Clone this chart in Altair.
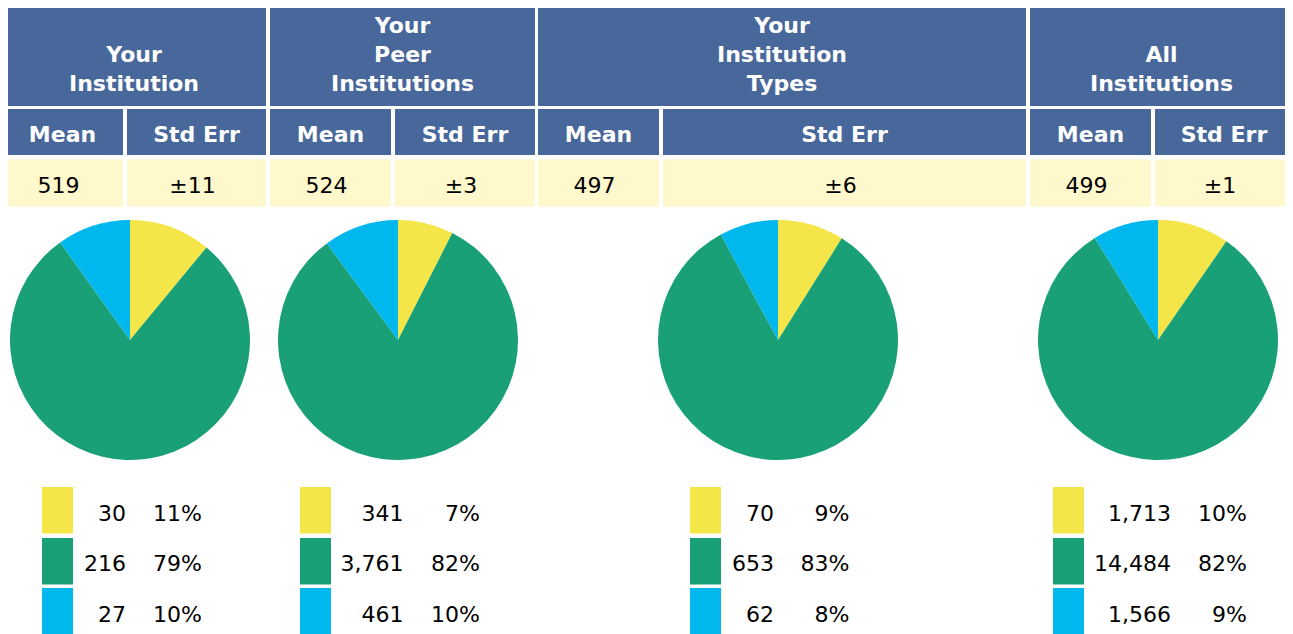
import altair as alt
import pandas as pd

# ---------------- data ----------------
groups = ["Your\nInstitution", "Your\nPeer\nInstitutions", "Your\nInstitution\nTypes", "All\nInstitutions"]
sub_headers = ["Mean", "Std Err"]
means = [519, 524, 497, 499]
std_errs = [11, 3, 6, 1]
categories = ["Category 1", "Category 2", "Category 3"]
counts = [[30, 216, 27], [341, 3761, 461], [70, 653, 62], [1713, 14484, 1566]]
percents = [[11, 79, 10], [7, 82, 10], [9, 83, 8], [10, 82, 9]]

# ---------------- layout / style ----------------
W, H = 1293, 634
col_left = [2, 270, 538, 1030]
col_right = [266, 535, 1026, 1293]
mean_right = [123, 391, 659, 1151]
std_left = [127, 395, 663, 1155]
row1 = (1, 106)
row2 = (109, 155)
row3 = (159.5, 206.5)
head_last_baseline, head_line_step = 91.3, 29
sub_baseline = 141.7
val_baseline = 193.3
val_shift = -4
pie_cx = [130, 398, 778, 1158]
pie_cy = 340
pie_r = 120
leg_left = [42, 300, 690, 1053]
leg_w = 31
leg_rows = [(487, 533.5), (538, 584.5), (588, 634)]
leg_baselines = [520.7, 570.7, 621.5]
count_right = [126, 403.5, 774, 1171]
pct_right = [202, 480, 849.5, 1247]

HEAD = "#48679A"
VAL_BG = "#FFF8CC"
cat_colors = ["#F4E548", "#19A077", "#00B7EE"]
FONT = "DejaVu Sans"
FS = 22

xs = alt.Scale(domain=[0, W], nice=False, zero=False)
ys = alt.Scale(domain=[0, H], nice=False, zero=False, reverse=True)

# ---------------- tables ----------------
cells = []
for i in range(len(groups)):
    cells.append(dict(x=col_left[i], x2=col_right[i], y=row1[0], y2=row1[1], fill=HEAD))
    cells.append(dict(x=col_left[i], x2=mean_right[i], y=row2[0], y2=row2[1], fill=HEAD))
    cells.append(dict(x=std_left[i], x2=col_right[i], y=row2[0], y2=row2[1], fill=HEAD))
    cells.append(dict(x=col_left[i], x2=mean_right[i], y=row3[0], y2=row3[1], fill=VAL_BG))
    cells.append(dict(x=std_left[i], x2=col_right[i], y=row3[0], y2=row3[1], fill=VAL_BG))
    for k in range(len(categories)):
        cells.append(dict(x=leg_left[i], x2=leg_left[i] + leg_w,
                          y=leg_rows[k][0], y2=leg_rows[k][1], fill=cat_colors[k]))
cells_df = pd.DataFrame(cells)

head_txt = []
for i, g in enumerate(groups):
    lines = g.split("\n")
    n = len(lines)
    cx = (col_left[i] + col_right[i]) / 2
    for j, ln in enumerate(lines):
        head_txt.append(dict(x=cx, y=head_last_baseline - head_line_step * (n - 1 - j), t=ln))
    head_txt.append(dict(x=(col_left[i] + mean_right[i]) / 2, y=sub_baseline, t=sub_headers[0]))
    head_txt.append(dict(x=(std_left[i] + col_right[i]) / 2, y=sub_baseline, t=sub_headers[1]))
head_df = pd.DataFrame(head_txt)

val_txt = []
for i in range(len(groups)):
    val_txt.append(dict(x=(col_left[i] + mean_right[i]) / 2 + val_shift, y=val_baseline, t=f"{means[i]:,}"))
    val_txt.append(dict(x=(std_left[i] + col_right[i]) / 2 + val_shift, y=val_baseline, t=f"±{std_errs[i]}"))
val_df = pd.DataFrame(val_txt)

leg_txt = []
for i in range(len(groups)):
    for k in range(len(categories)):
        leg_txt.append(dict(x=count_right[i], y=leg_baselines[k], t=f"{counts[i][k]:,}"))
        leg_txt.append(dict(x=pct_right[i], y=leg_baselines[k], t=f"{percents[i][k]}%"))
leg_df = pd.DataFrame(leg_txt)

pie_rows = []
for i in range(len(groups)):
    for k, c in enumerate(categories):
        pie_rows.append(dict(gid=i, cid=k, cat=c, count=counts[i][k],
                             cx=pie_cx[i], cy=pie_cy, fill=cat_colors[k]))
pie_df = pd.DataFrame(pie_rows)

# ---------------- layers ----------------
rects = alt.Chart(cells_df).mark_rect().encode(
    x=alt.X("x:Q", scale=xs, axis=None),
    x2="x2:Q",
    y=alt.Y("y:Q", scale=ys, axis=None),
    y2="y2:Q",
    color=alt.Color("fill:N", scale=None),
)

pies = alt.Chart(pie_df).transform_joinaggregate(
    total="sum(count)", groupby=["gid"]
).transform_window(
    cum="sum(count)", sort=[alt.SortField("cid")], groupby=["gid"], frame=[None, 0]
).transform_calculate(
    a0="2*PI*(datum.cum - datum.count)/datum.total",
    a1="2*PI*datum.cum/datum.total",
).mark_arc(radius=pie_r).encode(
    x=alt.X("cx:Q", scale=xs, axis=None),
    y=alt.Y("cy:Q", scale=ys, axis=None),
    theta=alt.Theta("a0:Q", scale=None),
    theta2="a1:Q",
    color=alt.Color("fill:N", scale=None),
)

heads = alt.Chart(head_df).mark_text(
    font=FONT, fontSize=FS, fontWeight="bold", color="white",
    align="center", baseline="alphabetic"
).encode(
    x=alt.X("x:Q", scale=xs, axis=None),
    y=alt.Y("y:Q", scale=ys, axis=None),
    text="t:N",
)

vals = alt.Chart(val_df).mark_text(
    font=FONT, fontSize=FS, color="black", align="center", baseline="alphabetic"
).encode(
    x=alt.X("x:Q", scale=xs, axis=None),
    y=alt.Y("y:Q", scale=ys, axis=None),
    text="t:N",
)

legs = alt.Chart(leg_df).mark_text(
    font=FONT, fontSize=FS, color="black", align="right", baseline="alphabetic"
).encode(
    x=alt.X("x:Q", scale=xs, axis=None),
    y=alt.Y("y:Q", scale=ys, axis=None),
    text="t:N",
)

chart = alt.layer(rects, pies, heads, vals, legs).properties(
    width=W, height=H,
    padding={"left": -8, "top": -8, "right": -8, "bottom": 0},
    autosize=alt.AutoSizeParams(type="none"),
).configure_view(stroke=None)

chart.save("out.html", embed_options={"renderer": "svg", "actions": False})
